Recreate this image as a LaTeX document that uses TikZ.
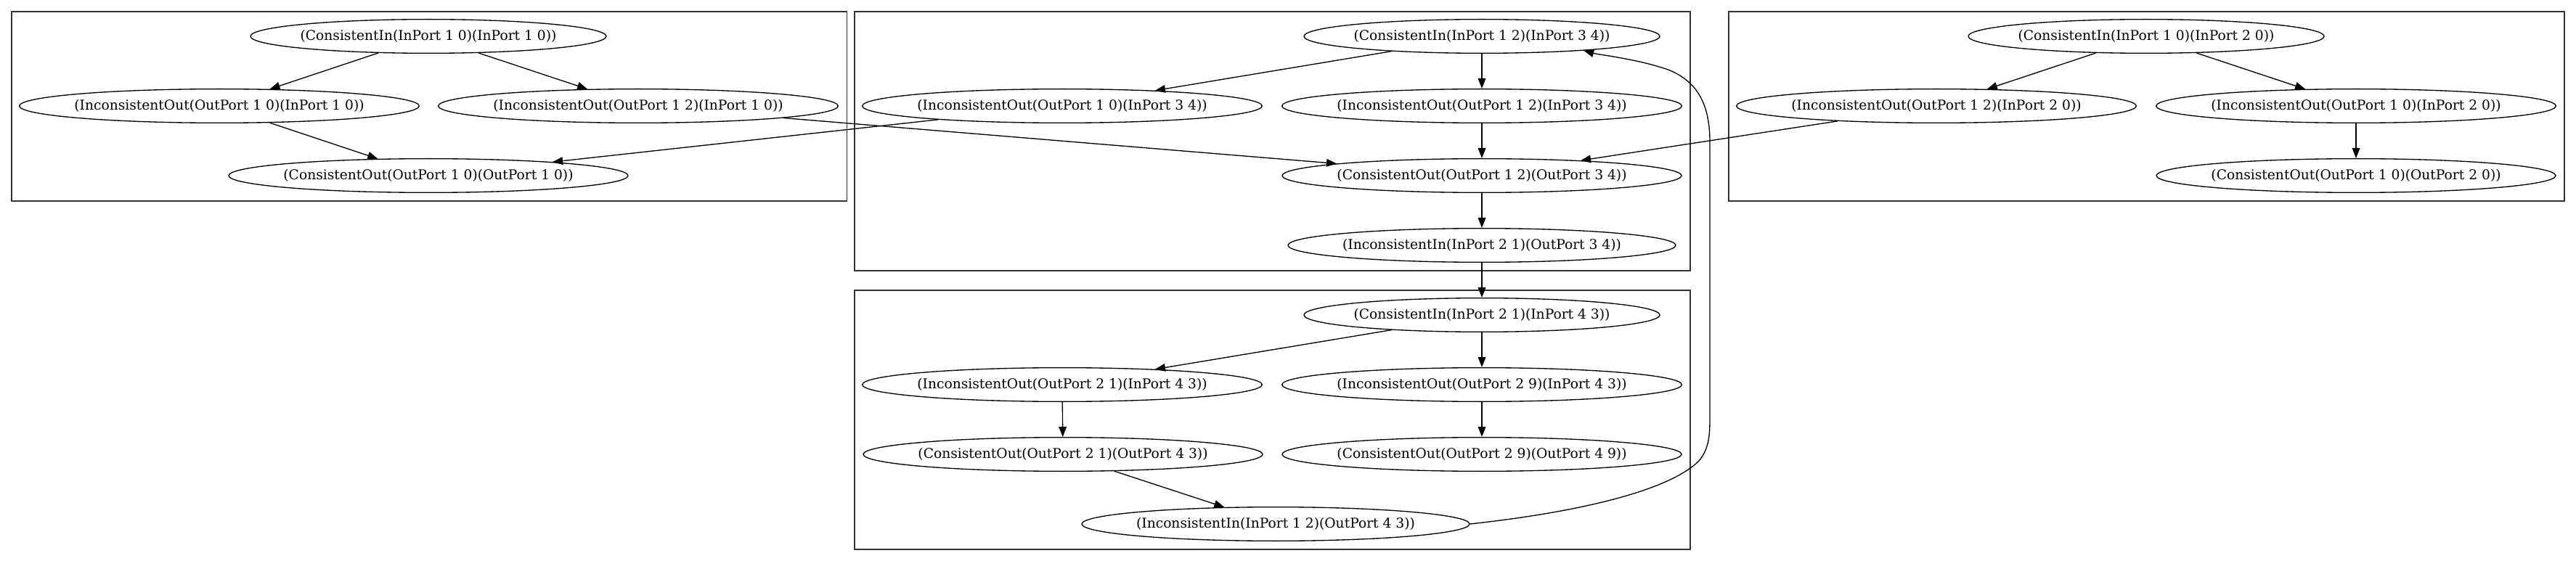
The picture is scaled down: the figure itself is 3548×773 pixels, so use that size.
\documentclass[tikz,border=0pt]{standalone}
\usepackage{fontspec}
\setmainfont{DejaVu Serif}
\usetikzlibrary{shapes.geometric,arrows.meta}
\newcommand\gvtext[1]{\makebox[0pt]{#1}}
\begin{document}
\begin{tikzpicture}[x=0.75pt,y=-0.75pt,
  gv/.style={ellipse, draw, line width=1pt, inner sep=0pt, minimum height=35pt,
             font=\fontsize{14pt}{17pt}\selectfont},
  wci/.style={minimum width=367.5pt},
  wio/.style={minimum width=413pt},
  wco/.style={minimum width=412.5pt},
  wii/.style={minimum width=400.5pt},
  cl/.style={draw=black!80, line width=1.3pt},
  ed/.style={line width=1pt, -{Triangle[length=10.5pt,width=8pt]}}]
\useasboundingbox (0,0) rectangle (3548,773);
% cluster frames
\draw[cl] (16,15.7) rectangle (1166.5,276.7);
\draw[cl] (1177,15.7) rectangle (2328.3,372.7);
\draw[cl] (1177,400) rectangle (2328.3,756.7);
\draw[cl] (2381,15.7) rectangle (3532.2,276.7);
% left cluster
\node[gv,wci] (a1) at (590,50)  {\gvtext{(ConsistentIn(InPort 1 0)(InPort 1 0))}};
\node[gv,wio] (a2) at (302,146) {\gvtext{(InconsistentOut(OutPort 1 0)(InPort 1 0))}};
\node[gv,wio] (a3) at (879,146) {\gvtext{(InconsistentOut(OutPort 1 2)(InPort 1 0))}};
\node[gv,wco] (a4) at (590,242) {\gvtext{(ConsistentOut(OutPort 1 0)(OutPort 1 0))}};
% middle top cluster
\node[gv,wci] (b1) at (2041,50)  {\gvtext{(ConsistentIn(InPort 1 2)(InPort 3 4))}};
\node[gv,wio] (b2) at (1463,146) {\gvtext{(InconsistentOut(OutPort 1 0)(InPort 3 4))}};
\node[gv,wio] (b3) at (2041,146) {\gvtext{(InconsistentOut(OutPort 1 2)(InPort 3 4))}};
\node[gv,wco] (b4) at (2041,242) {\gvtext{(ConsistentOut(OutPort 1 2)(OutPort 3 4))}};
\node[gv,wii] (b5) at (2041,338) {\gvtext{(InconsistentIn(InPort 2 1)(OutPort 3 4))}};
% middle bottom cluster
\node[gv,wci] (c1) at (2041,434) {\gvtext{(ConsistentIn(InPort 2 1)(InPort 4 3))}};
\node[gv,wio] (c2) at (1463,530) {\gvtext{(InconsistentOut(OutPort 2 1)(InPort 4 3))}};
\node[gv,wio] (c3) at (2041,530) {\gvtext{(InconsistentOut(OutPort 2 9)(InPort 4 3))}};
\node[gv,wco] (c4) at (1464,626) {\gvtext{(ConsistentOut(OutPort 2 1)(OutPort 4 3))}};
\node[gv,wco] (c5) at (2041,626) {\gvtext{(ConsistentOut(OutPort 2 9)(OutPort 4 9))}};
\node[gv,wii] (c6) at (1757,722) {\gvtext{(InconsistentIn(InPort 1 2)(OutPort 4 3))}};
% right cluster
\node[gv,wci] (d1) at (2956,50)  {\gvtext{(ConsistentIn(InPort 1 0)(InPort 2 0))}};
\node[gv,wio] (d2) at (2667,146) {\gvtext{(InconsistentOut(OutPort 1 2)(InPort 2 0))}};
\node[gv,wio] (d3) at (3245,146) {\gvtext{(InconsistentOut(OutPort 1 0)(InPort 2 0))}};
\node[gv,wco] (d4) at (3245,242) {\gvtext{(ConsistentOut(OutPort 1 0)(OutPort 2 0))}};
% edges
\draw[ed] (a1) -- (a2);
\draw[ed] (a1) -- (a3);
\draw[ed] (a2) -- (a4);
\draw[ed] (a3) -- (b4);
\draw[ed] (b2) -- (a4);
\draw[ed] (b1) -- (b2);
\draw[ed] (b1) -- (b3);
\draw[ed] (b3) -- (b4);
\draw[ed] (d2) -- (b4);
\draw[ed] (b4) -- (b5);
\draw[ed] (b5) -- (c1);
\draw[ed] (c1) -- (c2);
\draw[ed] (c1) -- (c3);
\draw[ed] (c2) -- (c4);
\draw[ed] (c3) -- (c5);
\draw[ed] (c4) -- (c6);
\draw[ed] (d1) -- (d2);
\draw[ed] (d1) -- (d3);
\draw[ed] (d3) -- (d4);
\draw[ed] (c6.east) .. controls (2180,705) and (2300,675) .. (2340,635)
  .. controls (2354,618) and (2355,600) .. (2355,575) -- (2355,200)
  .. controls (2356,140) and (2335,112) .. (2300,97)
  .. controls (2260,82) and (2200,75) .. (b1.-8.4);
\end{tikzpicture}
\end{document}
